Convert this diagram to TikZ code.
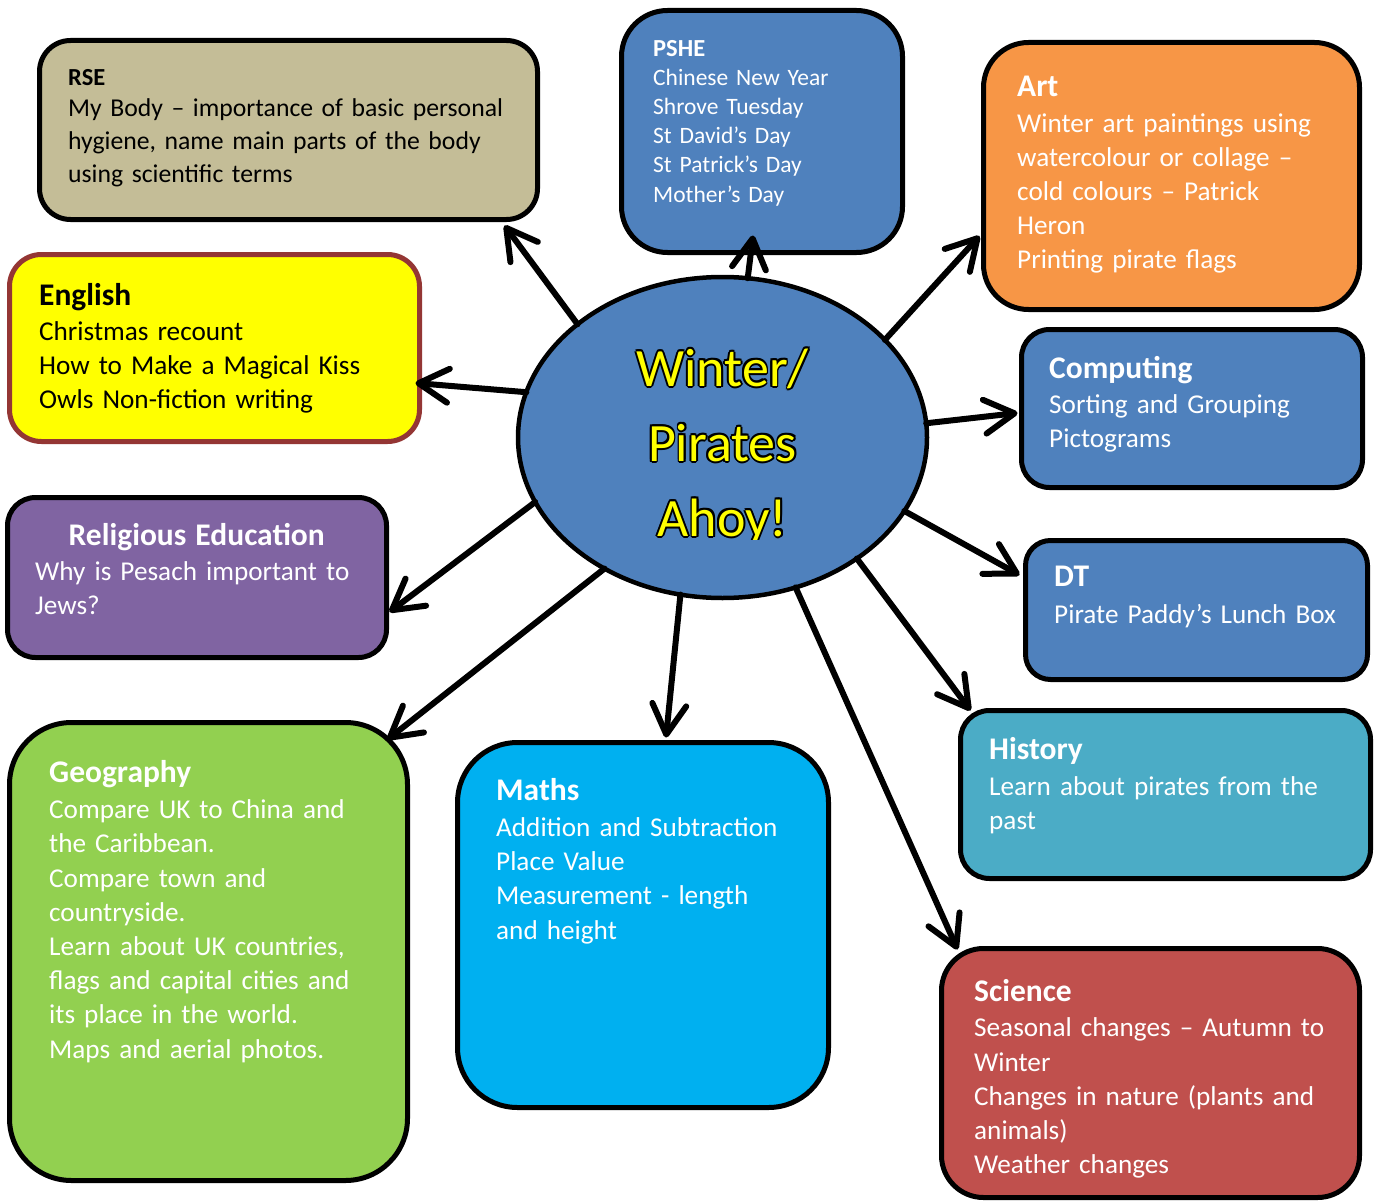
\documentclass[tikz,border=0pt]{standalone}
\usepackage{fontspec}
\setmainfont{Carlito}
\usetikzlibrary{arrows.meta,calc,shapes.geometric}
\definecolor{rsecol}{HTML}{C4BD97}
\definecolor{bluecol}{HTML}{4F81BD}
\definecolor{artcol}{HTML}{F79646}
\definecolor{engcol}{HTML}{FFFF00}
\definecolor{engbrd}{HTML}{943634}
\definecolor{recol}{HTML}{8064A2}
\definecolor{geocol}{HTML}{92D050}
\definecolor{mathcol}{HTML}{00B0F0}
\definecolor{histcol}{HTML}{4BACC6}
\definecolor{scicol}{HTML}{C0504D}
\definecolor{ttlcol}{HTML}{FFFF00}
\newcommand\hd[1]{{\fontsize{31.5}{34}\selectfont\bfseries #1}}
\newcommand\hds[1]{{\fontsize{24.5}{29}\selectfont\bfseries #1}}
\newcommand\olshift[3]{\makebox[0pt][l]{\kern#1\raisebox{#2}{\color{black}#3}}}
\newcommand\oltxt[1]{\olshift{1.8pt}{0pt}{#1}\olshift{-1.8pt}{0pt}{#1}\olshift{0pt}{1.8pt}{#1}\olshift{0pt}{-1.8pt}{#1}\olshift{1.3pt}{1.3pt}{#1}\olshift{-1.3pt}{1.3pt}{#1}\olshift{1.3pt}{-1.3pt}{#1}\olshift{-1.3pt}{-1.3pt}{#1}{\color{ttlcol}#1}}
\tikzset{
  box/.style={draw=black, line width=5pt, inner sep=0pt, outer sep=0pt},
  txt/.style={anchor=north west, inner sep=0pt, text width=560pt, align=left, font=\fontsize{27.2}{34.2}\selectfont, text=white},
  arr/.style={line width=6pt, line cap=round, -{Straight Barb[length=30pt,width=34pt,line cap=round,line join=round]}},
  ttl/.style={anchor=north, inner sep=0pt, text width=420pt, align=center, font=\fontsize{54}{75}\selectfont}
}
\begin{document}
\begin{tikzpicture}[x=1pt,y=-1pt]
\useasboundingbox[fill=white] (0,0) rectangle (1384,1204);
% boxes
\node[box, fill=rsecol, rounded corners=31pt, minimum width=498pt, minimum height=179pt] (rse) at (288.5,130) {};
\node[box, fill=bluecol, rounded corners=46pt, minimum width=281pt, minimum height=242pt] (pshe) at (762,131.5) {};
\node[box, fill=artcol, rounded corners=45pt, minimum width=376pt, minimum height=267pt] (art) at (1171.5,176) {};
\node[box, draw=engbrd, fill=engcol, rounded corners=32pt, minimum width=410pt, minimum height=187pt] (eng) at (214.5,348) {};
\node[box, fill=bluecol, rounded corners=28pt, minimum width=341pt, minimum height=158pt] (comp) at (1192,408.5) {};
\node[box, fill=recol, rounded corners=28pt, minimum width=379pt, minimum height=160pt] (re) at (197,577.5) {};
\node[box, fill=bluecol, rounded corners=25pt, minimum width=342pt, minimum height=139pt] (dt) at (1196.5,610) {};
\node[box, fill=histcol, rounded corners=29pt, minimum width=410pt, minimum height=168pt] (hist) at (1165.5,794.5) {};
\node[box, fill=geocol, rounded corners=62pt, minimum width=398pt, minimum height=458pt] (geo) at (208.5,951.5) {};
\node[box, fill=mathcol, rounded corners=60pt, minimum width=371pt, minimum height=365pt] (maths) at (643,925) {};
\node[box, fill=scicol, rounded corners=42pt, minimum width=418pt, minimum height=249pt] (sci) at (1150.5,1073) {};
% texts
\node[txt, text=black, font=\fontsize{25.7}{32.7}\selectfont] (trse) at (68,59)
 {\rule{0pt}{26pt}\hds{RSE}\\[-1pt]My Body – importance of basic personal\\hygiene, name main parts of the body\\using scientific terms};
\node[txt, font=\fontsize{23.5}{29.2}\selectfont] (tpshe) at (653,30)
 {\rule{0pt}{26pt}\hds{PSHE}\\Chinese New Year\\Shrove Tuesday\\St David’s Day\\St Patrick’s Day\\Mother’s Day};
\node[txt] (tart) at (1017,70.7)
 {\rule{0pt}{26pt}\hd{Art}\\[1pt]Winter art paintings using\\watercolour or collage –\\cold colours – Patrick\\Heron\\Printing pirate flags};
\node[txt, text=black] (teng) at (39,279)
 {\rule{0pt}{26pt}\hd{English}\\[1pt]Christmas recount\\How to Make a Magical Kiss\\Owls Non-fiction writing};
\node[txt] (tcomp) at (1049,352.3)
 {\rule{0pt}{26pt}\hd{Computing}\\[1pt]Sorting and Grouping\\Pictograms};
\node[txt, font=\fontsize{27.2}{34.8}\selectfont] (tre) at (35,519)
 {\rule{0pt}{26pt}\makebox[323pt][c]{\hd{Religious Education}}\\Why is Pesach important to\\Jews?};
\node[txt] (tdt) at (1054,560.7)
 {\rule{0pt}{26pt}\hd{DT}\\[2.5pt]Pirate Paddy’s Lunch Box};
\node[txt] (thist) at (989,733.3)
 {\rule{0pt}{26pt}\hd{History}\\[1.5pt]Learn about pirates from the\\past};
\node[txt] (tgeo) at (49,756.7)
 {\rule{0pt}{26pt}\hd{Geography}\\[1.5pt]Compare UK to China and\\the Caribbean.\\Compare town and\\countryside.\\Learn about UK countries,\\flags and capital cities and\\its place in the world.\\Maps and aerial photos.};
\node[txt] (tmaths) at (496,774)
 {\rule{0pt}{26pt}\hd{Maths}\\[2pt]Addition and Subtraction\\Place Value\\Measurement - length\\and height};
\node[txt] (tsci) at (974,975)
 {\rule{0pt}{26pt}\hd{Science}\\[1.5pt]Seasonal changes – Autumn to\\Winter\\Changes in nature (plants and\\animals)\\Weather changes};
% centre
\node[ellipse, draw=black, line width=4.5pt, fill=bluecol, minimum width=409pt, minimum height=321pt, inner sep=0pt, outer sep=0pt] (ell) at (722.5,437.5) {};
\begin{scope}
\clip (500,280) rectangle (950,539);
\node[ttl] (title) at (722.5,339)
 {\rule{0pt}{47pt}\oltxt{Winter/}\\\oltxt{Pirates}\\\oltxt{Ahoy!}};
\end{scope}
% connectors
\draw[arr] (ell.142.5) -- ($(rse.south east)+(-33,6)$);
\draw[arr] (ell.81.2) -- ($(pshe.south)+(-9,-17)$);
\draw[arr] (ell.31.3) -- ($(art.west)+(-4,60)$);
\draw[arr] (ell.4) -- ($(comp.west)+(-4,4.5)$);
\draw[arr] (ell.167.6) -- ($(eng.east)+(-4,35)$);
\draw[arr] (ell.199.1) -- ($(re.east)+(3,34.5)$);
\draw[arr] (ell.228.8) -- ($(geo.north east)+(-20,17)$);
\draw[arr] (ell.255.8) -- ($(maths.north)+(23,-5)$);
\draw[arr] (ell.296.9) -- ($(sci.north west)+(16,1)$);
\draw[arr] (ell.318.9) -- ($(hist.north west)+(10,0)$);
\draw[arr] (ell.338.7) -- ($(dt.west)+(-6,-35)$);
\end{tikzpicture}
\end{document}
